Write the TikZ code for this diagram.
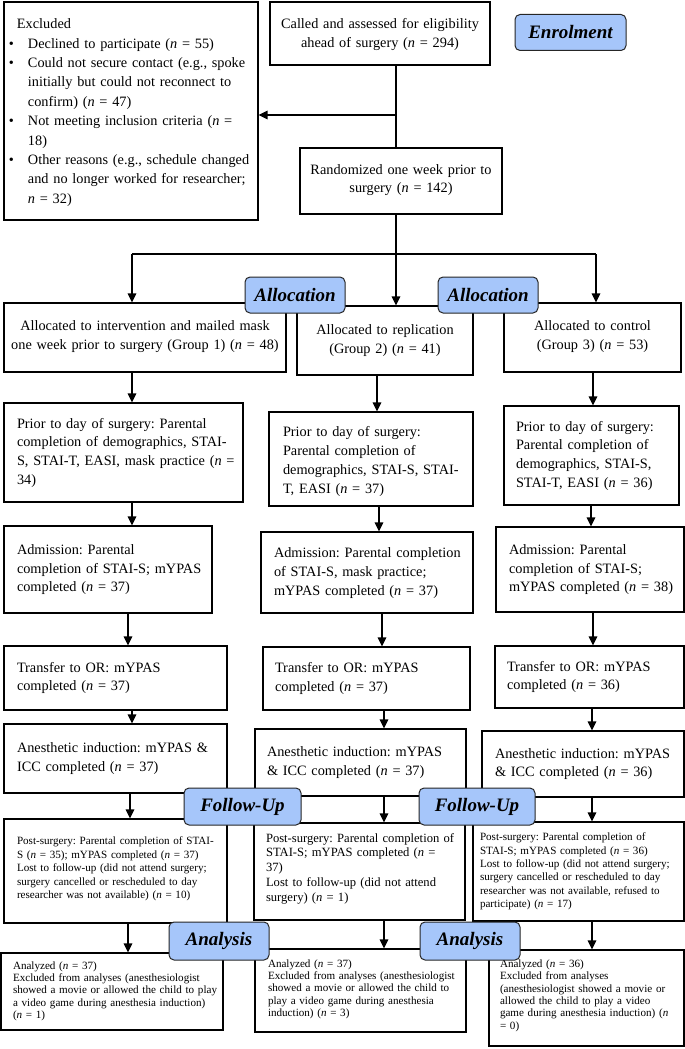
\documentclass[tikz,border=0pt]{standalone}
\usepackage{fontspec}
\setmainfont{Liberation Serif}
\usetikzlibrary{arrows.meta,calc}
\definecolor{labc}{RGB}{166,198,250}
\frenchspacing
\newcommand\nn{\textit{n}}
\newcommand\mainf{\fontsize{14.3}{18.8}\selectfont}
\newcommand\smallf{\fontsize{11.1}{13.4}\selectfont}
\newcommand\anaf{\fontsize{11.1}{12.4}\selectfont}
\newcommand\midf{\fontsize{12.6}{14.7}\selectfont}
% name x1 y1 x2 y2 pad options column lines
\newcommand\BX[9]{%
 \pgfmathsetmacro\bw{#4-#2}\pgfmathsetmacro\bh{#5-#3}\pgfmathsetmacro\tw{#4-#2-2*#6}%
 \pgfmathsetmacro\bcx{(#2+#4)/2}\pgfmathsetmacro\bcy{(#3+#5)/2}%
 \node[box,minimum width=\bw pt,minimum height=\bh pt,inner xsep=#6pt,text width=\tw pt,#7] (#1) at (\bcx,\bcy) {\noindent\frenchspacing\begin{tabular}{@{}#8@{}}#9\end{tabular}};}
\tikzset{
 box/.style={draw=black, line width=1.2pt, inner ysep=0pt},
 arr/.style={-{Triangle[length=9pt,width=8.5pt]}, line width=1.5pt},
 lineseg/.style={line width=1.5pt},
 lab/.style={draw=black!85, line width=1pt, fill=labc, rounded corners=5pt, inner sep=0pt,
   font=\fontsize{19}{22}\selectfont\bfseries\itshape},
 L/.style={align=left, font=\mainf},
 C/.style={align=center, font=\mainf},
}
\begin{document}
\begin{tikzpicture}[x=1pt,y=-1pt]
\useasboundingbox (0,0) rectangle (685,1049);
% ---------- boxes ----------
\BX{excl}{4}{2}{258}{220}{4}{align=left,font=\fontsize{14.3}{19.4}\selectfont}{l}{%
\hspace*{9pt}Excluded\rule{0pt}{16pt}\\
\makebox[20pt][l]{\hspace*{1pt}•}Declined to participate (\nn{} = 55)\\
\makebox[20pt][l]{\hspace*{1pt}•}Could not secure contact (e.g., spoke\\
\hspace*{20pt}initially but could not reconnect to\\
\hspace*{20pt}confirm) (\nn{} = 47)\\
\makebox[20pt][l]{\hspace*{1pt}•}Not meeting inclusion criteria (\nn{} =\\
\hspace*{20pt}18)\\
\makebox[20pt][l]{\hspace*{1pt}•}Other reasons (e.g., schedule changed\\
\hspace*{20pt}and no longer worked for researcher;\\
\hspace*{20pt}\nn{} = 32)}
\BX{called}{270}{2}{490}{65}{6}{C}{c}{Called and assessed for eligibility\rule{0pt}{14pt}\\ ahead of surgery (\nn{} = 294)}
\BX{rand}{300}{148}{502}{214}{6}{C}{c}{Randomized one week prior to\\ surgery (\nn{} = 142)\rule[-8pt]{0pt}{8pt}}
% allocation
\BX{g1a}{4}{303}{286}{372}{4}{C}{c}{Allocated to intervention and mailed mask\\ one week prior to surgery (Group 1) (\nn{} = 48)\rule[-8pt]{0pt}{8pt}}
\BX{g2a}{297}{306}{473}{375}{4}{C}{c}{Allocated to replication\\ (Group 2) (\nn{} = 41)\rule[-6pt]{0pt}{6pt}}
\BX{g3a}{504}{303}{681}{372}{4}{C}{c}{Allocated to control\\ (Group 3) (\nn{} = 53)\rule[-8pt]{0pt}{8pt}}
% prior
\BX{g1p}{4}{403}{243}{502}{13}{L}{l}{Prior to day of surgery: Parental\\ completion of demographics, STAI-\\ S, STAI-T, EASI, mask practice (\nn{} =\\ 34)}
\BX{g2p}{269}{412}{473}{506}{14}{L}{l}{Prior to day of surgery:\rule{0pt}{18pt}\\ Parental completion of\\ demographics, STAI-S, STAI-\\ T, EASI (\nn{} = 37)}
\BX{g3p}{504}{406}{679}{505}{12}{L}{l}{Prior to day of surgery:\\ Parental completion of\\ demographics, STAI-S,\\ STAI-T, EASI (\nn{} = 36)}
% admission
\BX{g1m}{4}{526}{212}{613}{13}{L}{l}{Admission: Parental\\ completion of STAI-S; mYPAS\\ completed (\nn{} = 37)\rule[-6pt]{0pt}{6pt}}
\BX{g2m}{261}{532}{473}{613}{13}{L}{l}{Admission: Parental completion\\ of STAI-S, mask practice;\\ mYPAS completed (\nn{} = 37)}
\BX{g3m}{496}{527}{684}{612}{13}{L}{l}{Admission: Parental\\ completion of STAI-S;\\ mYPAS completed (\nn{} = 38)\rule[-6pt]{0pt}{6pt}}
% transfer
\BX{g1t}{4}{646}{227}{710}{13}{L}{l}{Transfer to OR: mYPAS\\ completed (\nn{} = 37)\rule[-6pt]{0pt}{6pt}}
\BX{g2t}{263}{647}{470}{710}{12}{L}{l}{Transfer to OR: mYPAS\\ completed (\nn{} = 37)\rule[-6pt]{0pt}{6pt}}
\BX{g3t}{495}{646}{684}{708}{12}{L}{l}{Transfer to OR: mYPAS\\ completed (\nn{} = 36)\rule[-6pt]{0pt}{6pt}}
% anesthetic
\BX{g1n}{4}{724}{227}{793}{13}{L}{l}{Anesthetic induction: mYPAS \&\\ ICC completed (\nn{} = 37)\rule[-6pt]{0pt}{6pt}}
\BX{g2n}{255}{729}{466}{796}{12}{L}{l}{Anesthetic induction: mYPAS\\ \& ICC completed (\nn{} = 37)\rule[-6pt]{0pt}{6pt}}
\BX{g3n}{482}{731}{684}{797}{13}{L}{l}{Anesthetic induction: mYPAS\\ \& ICC completed (\nn{} = 36)\rule[-6pt]{0pt}{6pt}}
% post-surgery
\BX{g1s}{4}{819}{227}{923}{13}{align=left,font=\smallf}{l}{Post-surgery: Parental completion of STAI-\\ S (\nn{} = 35); mYPAS completed (\nn{} = 37)\\ Lost to follow-up (did not attend surgery;\\ surgery cancelled or rescheduled to day\\ researcher was not available) (\nn{} = 10)\rule[-8pt]{0pt}{8pt}}
\BX{g2s}{254}{823}{465}{920}{12}{align=left,font=\midf}{l}{Post-surgery: Parental completion of\\ STAI-S; mYPAS completed (\nn{} =\\ 37)\\ Lost to follow-up (did not attend\\ surgery) (\nn{} = 1)\rule[-10pt]{0pt}{10pt}}
\BX{g3s}{473}{822}{684}{921}{7}{align=left,font=\smallf}{l}{Post-surgery: Parental completion of\\ STAI-S; mYPAS completed (\nn{} = 36)\\ Lost to follow-up (did not attend surgery;\\ surgery cancelled or rescheduled to day\\ researcher was not available, refused to\\ participate) (\nn{} = 17)}
% analyzed
\BX{g1z}{1}{953}{223}{1030}{12}{align=left,font=\anaf}{l}{Analyzed (\nn{} = 37)\\ Excluded from analyses (anesthesiologist\\ showed a movie or allowed the child to play\\ a video game during anesthesia induction)\\ (\nn{} = 1)}
\BX{g2z}{255}{949}{466}{1032}{13}{align=left,font=\anaf}{l}{Analyzed (\nn{} = 37)\\ Excluded from analyses (anesthesiologist\\ showed a movie or allowed the child to\\ play a video game during anesthesia\\ induction) (\nn{} = 3)\rule[-6pt]{0pt}{6pt}}
\BX{g3z}{489}{950}{684}{1046}{11}{align=left,font=\anaf}{l}{Analyzed (\nn{} = 36)\\ Excluded from analyses\\ (anesthesiologist showed a movie or\\ allowed the child to play a video\\ game during anesthesia induction) (\nn\\ = 0)\rule[-8pt]{0pt}{8pt}}
% ---------- connectors ----------
\coordinate (j1) at (396,115);
\draw[lineseg] (called.south -| j1) -- (rand.north -| j1);
\draw[arr] (j1) -- (j1 -| excl.east);
\coordinate (d0) at (396,254);
\coordinate (dL) at (132,254);
\coordinate (dR) at (596,254);
\draw[lineseg] (rand.south -| d0) -- (d0);
\draw[lineseg] (dL) -- (dR);
\draw[arr] (dL) -- (dL |- g1a.north);
\draw[arr] (d0) -- (d0 |- g2a.north);
\draw[arr] (dR) -- (dR |- g3a.north);
% group 1
\draw[arr] (g1a.south -| 132,0) -- (g1p.north -| 132,0);
\draw[arr] (g1p.south -| 132,0) -- (g1m.north -| 132,0);
\draw[arr] (g1m.south -| 128,0) -- (g1t.north -| 128,0);
\draw[arr] (g1t.south -| 132,0) -- (g1n.north -| 132,0);
\draw[arr] (g1n.south -| 130,0) -- (g1s.north -| 130,0);
\draw[arr] (g1s.south -| 128,0) -- (g1z.north -| 128,0);
% group 2
\draw[arr] (g2a.south -| 377,0) -- (g2p.north -| 377,0);
\draw[arr] (g2p.south -| 379,0) -- (g2m.north -| 379,0);
\draw[arr] (g2m.south -| 382,0) -- (g2t.north -| 382,0);
\draw[arr] (g2t.south -| 384,0) -- (g2n.north -| 384,0);
\draw[arr] (g2n.south -| 384,0) -- (g2s.north -| 384,0);
\draw[arr] (g2s.south -| 384,0) -- (g2z.north -| 384,0);
% group 3
\draw[arr] (g3a.south -| 593,0) -- (g3p.north -| 593,0);
\draw[arr] (g3p.south -| 591,0) -- (g3m.north -| 591,0);
\draw[arr] (g3m.south -| 593,0) -- (g3t.north -| 593,0);
\draw[arr] (g3t.south -| 592,0) -- (g3n.north -| 592,0);
\draw[arr] (g3n.south -| 592,0) -- (g3s.north -| 592,0);
\draw[arr] (g3s.south -| 592,0) -- (g3z.north -| 592,0);
% ---------- phase labels ----------
\node[lab, minimum width=111pt, minimum height=36pt] (enrol) at (570.5,32.5) {Enrolment};
\node[lab, minimum width=100pt, minimum height=36pt] (allocL) at (295,295) {Allocation};
\node[lab, minimum width=100pt, minimum height=36pt] (allocR) at (488,295) {Allocation};
\node[lab, minimum width=117pt, minimum height=37pt] (fuL) at (242.5,806.5) {Follow-Up};
\node[lab, minimum width=116pt, minimum height=37pt] (fuR) at (477,806.5) {Follow-Up};
\node[lab, minimum width=100pt, minimum height=38pt] (anL) at (219,941) {Analysis};
\node[lab, minimum width=100pt, minimum height=38pt] (anR) at (470,941) {Analysis};
\end{tikzpicture}
\end{document}
